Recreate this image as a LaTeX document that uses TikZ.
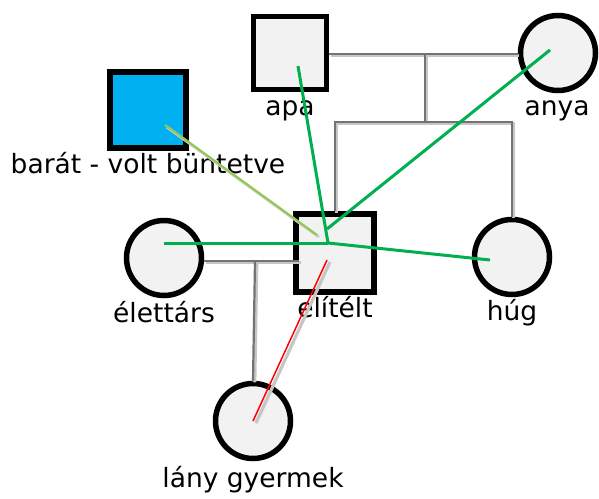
\documentclass[tikz,border=0pt]{standalone}
\usepackage{fontspec}
\setmainfont{DejaVu Sans}
\usetikzlibrary{positioning,calc}
\definecolor{NodeGray}{RGB}{242,242,242}
\definecolor{FriendBlue}{RGB}{0,176,240}
\definecolor{TieGreen}{RGB}{0,176,80}
\definecolor{LightGreen}{RGB}{146,200,80}
\definecolor{FamGray}{RGB}{115,115,115}
\tikzset{
  male/.style={rectangle,draw=black,line width=5.5pt,fill=NodeGray,minimum size=73pt,inner sep=0pt},
  female/.style={circle,draw=black,line width=5.5pt,fill=NodeGray,minimum size=75pt,inner sep=0pt},
  lbl/.style={anchor=base,font=\fontsize{26.5}{29}\selectfont,inner sep=0pt},
  fam/.style={draw=FamGray,line width=2.2pt,
    preaction={draw=gray!45,line width=3.8pt,transform canvas={shift={(1.5pt,-1.5pt)}}}},
  tie/.style={draw=TieGreen,line width=3pt},
  weaktie/.style={draw=LightGreen,line width=2pt,
    preaction={draw=gray!40,line width=3pt,transform canvas={shift={(2pt,-2pt)}}}},
  hostile/.style={draw=red,line width=1.5pt,
    preaction={draw=gray!45,line width=3.2pt,transform canvas={shift={(3pt,-2pt)}}}},
}
\begin{document}
\begin{tikzpicture}[x=1pt,y=-1pt]
  \useasboundingbox (0,0) rectangle (599,498);

  % persons
  \node[male] (apa) at (290,53) {};
  \node[female] (anya) at (558,53) {};
  \node[male,fill=FriendBlue,minimum size=76pt] (barat) at (148,110) {};
  \node[male,minimum size=78pt] (eli) at (335,253) {};
  \node[female] (elet) at (164,258) {};
  \node[female] (hug) at (512,257) {};
  \node[female] (lany) at (253,421) {};

  % names
  \node[lbl] (lapa) at (290,115) {apa};
  \node[lbl] (lanya) at (557,115) {anya};
  \node[lbl] (lbarat) at (148,173) {barát - volt büntetve};
  \node[lbl] (leli) at (335,317) {elítélt};
  \node[lbl] (lelet) at (164,322) {élettárs};
  \node[lbl] (lhug) at (512,320) {húg};
  \node[lbl] (llany) at (253,487) {lány gyermek};

  % family lines
  \coordinate (pm) at (425,54);
  \coordinate (ps) at (425,122);
  \coordinate (cm) at (255,261);
  \draw[fam] (apa.east |- pm) -- (anya.west |- pm);
  \draw[fam] (pm) -- (ps);
  \draw[fam] (eli.north) -- (eli.north |- ps) -- (hug.north |- ps) -- (hug.north);
  \draw[fam] (elet.east |- cm) -- ([xshift=6pt]eli.west |- cm);
  \draw[fam] (cm) -- (lany.north);

  % emotional ties
  \coordinate (hub) at (328,243);
  \coordinate (hubA) at (327,229);
  \coordinate (hubB) at (317,235);
  \coordinate (hubR) at (327,260);
  \draw[tie] ([shift={(8,13)}]apa.center) -- (hub);
  \draw[tie] ([shift={(-8,-3)}]anya.center) -- (hubA);
  \draw[tie] ([yshift=15]elet.center) -- (hub);
  \draw[tie] (hub) -- ([xshift=-22,yshift=-3]hug.center);
  \draw[weaktie] ([shift={(17,15)}]barat.center) -- (hubB);
  \draw[hostile] (hubR) -- (lany.center);
\end{tikzpicture}
\end{document}
